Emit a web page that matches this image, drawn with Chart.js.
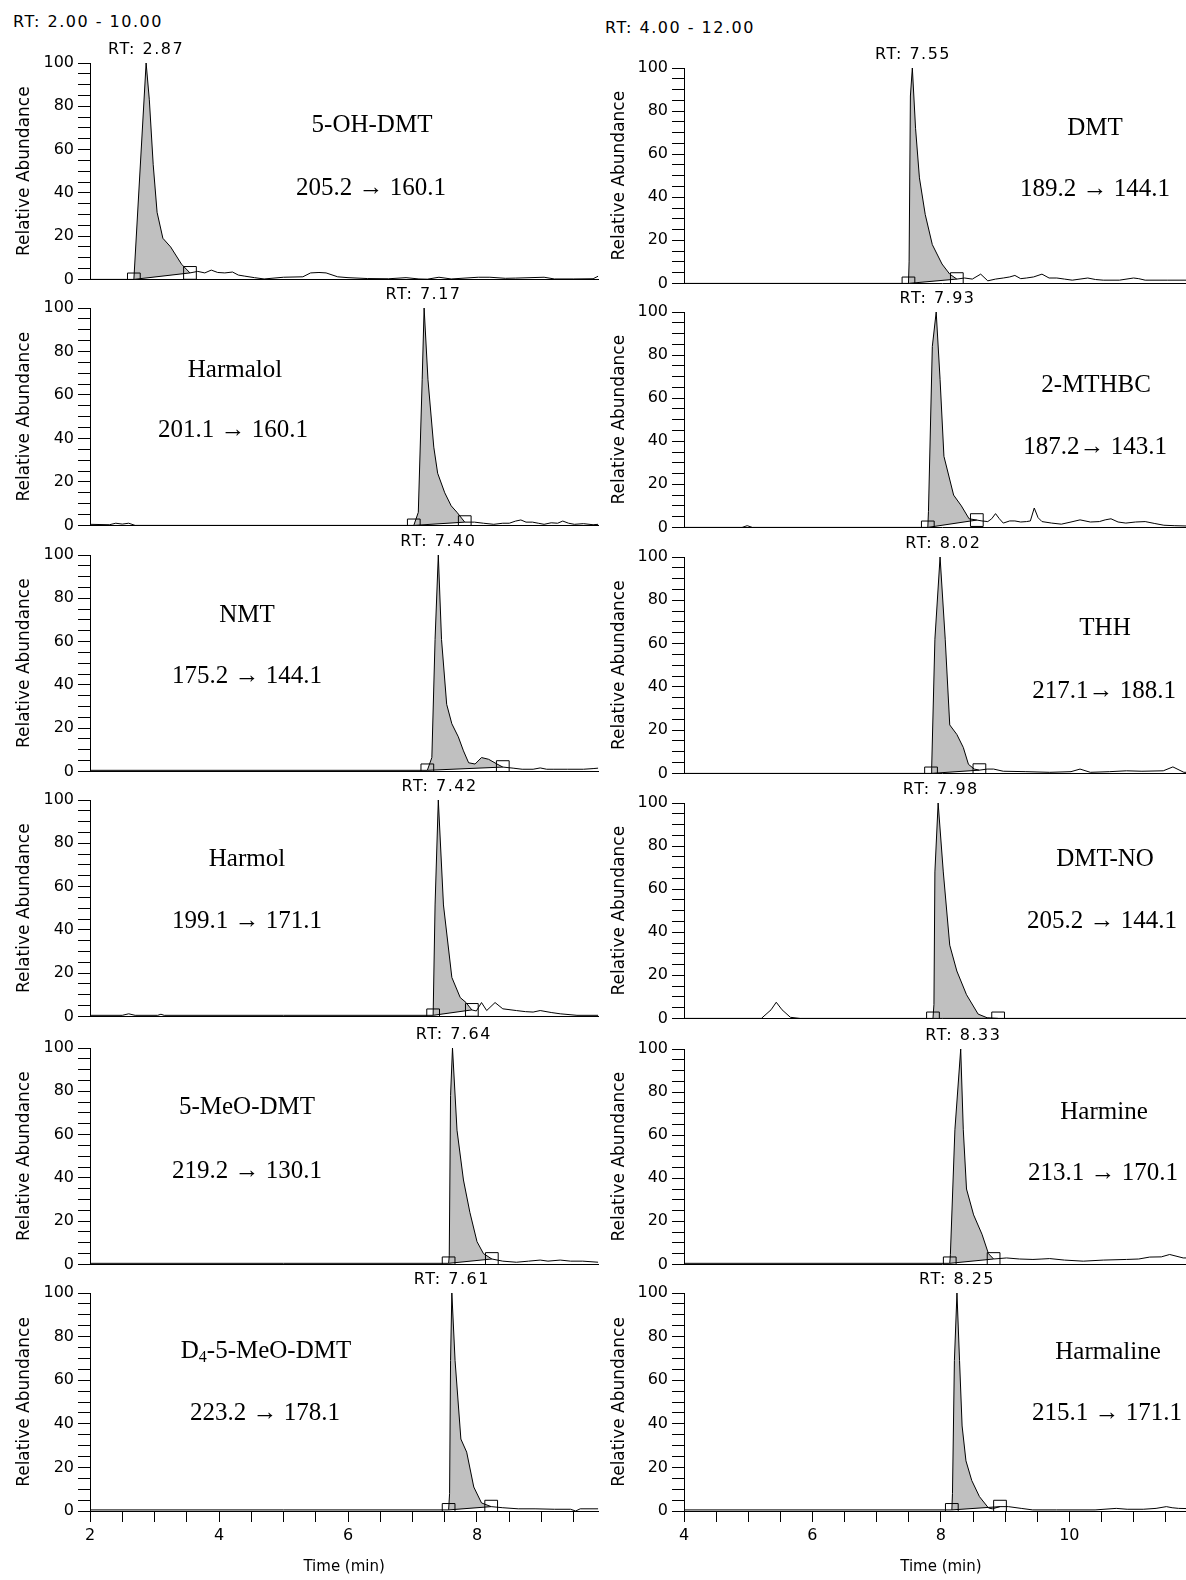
<!DOCTYPE html>
<html>
<head>
<meta charset="utf-8">
<script src="https://cdn.jsdelivr.net/npm/chart.js@4.4.0/dist/chart.umd.min.js"></script>
<style>
  html, body { margin: 0; padding: 0; background: #fff; overflow: hidden; }
  body { position: relative; width: 1186px; height: 1580px; }
  canvas { position: absolute; }
  .range { position: absolute; font: 16px "DejaVu Sans"; letter-spacing: 1.5px; line-height: 16px; white-space: nowrap; color: #000; }
  .label { position: absolute; font: 25px "Liberation Serif"; line-height: 25px; white-space: nowrap; color: #000; transform: translate(-50%, -50%); }
  .label sub { font-size: 16px; line-height: 0; vertical-align: -4px; }
</style>
</head>
<body>
<div class="range" style="left:13px;top:14px">RT: 2.00 - 10.00</div>
<div class="range" style="left:605px;top:20px">RT: 4.00 - 12.00</div>
<script>
// compounds, left column first (RT 2-10 min), then right column (RT 4-12 min)
const compounds = ['5-OH-DMT', 'Harmalol', 'NMT', 'Harmol', '5-MeO-DMT', 'D<sub>4</sub>-5-MeO-DMT',
  'DMT', '2-MTHBC', 'THH', 'DMT-NO', 'Harmine', 'Harmaline'];
const transitions = ['205.2 → 160.1', '201.1 → 160.1', '175.2 → 144.1', '199.1 → 171.1', '219.2 → 130.1', '223.2 → 178.1',
  '189.2 → 144.1', '187.2→ 143.1', '217.1→ 188.1', '205.2 → 144.1', '213.1 → 170.1', '215.1 → 171.1'];
const retentionTimes = [2.87, 7.17, 7.40, 7.42, 7.64, 7.61, 7.55, 7.93, 8.02, 7.98, 8.33, 8.25];

// integration limits [time, abundance]
const peakStart = [[2.68, 0], [7.02, 0], [7.23, 0.5], [7.32, 0.5], [7.56, 0.5], [7.56, 0.5],
  [7.48, 0], [7.78, 0], [7.83, 0], [7.86, 0], [8.12, 0.5], [8.17, 0.5]];
const peakEnd = [[3.55, 3], [7.81, 1.5], [8.40, 2], [7.92, 3], [8.23, 2.5], [8.22, 2],
  [8.23, 2], [8.54, 3.4], [8.58, 1.5], [8.87, 0], [8.80, 2.5], [8.92, 2]];

// traces [time (min), relative abundance]
const ohDmt = [[2.00,0],[2.60,0],[2.68,0],[2.87,100],[2.92,83],[2.98,53],[3.04,31],[3.13,19],[3.25,15],[3.42,7],[3.55,3],
  [3.67,3.7],[3.78,3],[3.88,4.3],[3.98,3.2],[4.09,3],[4.21,3.4],[4.30,2],[4.40,1.5],[4.55,0.8],[4.70,0.2],[5.00,1],
  [5.30,1.2],[5.42,3],[5.55,3.2],[5.66,3],[5.84,1.2],[6.00,0.8],[6.30,0.4],[6.63,0.3],[6.90,0.8],[7.10,0.2],[7.23,0.1],
  [7.41,1],[7.60,0.2],[8.02,1],[8.20,1],[8.44,0.5],[8.60,0.6],[9.04,1],[9.20,0.2],[9.50,0.2],[9.80,0.3],[9.88,1.5]];
const harmalol = [[2.00,0.5],[2.30,0.3],[2.40,1],[2.50,0.6],[2.60,1],[2.70,0],[4.00,0],[6.00,0],[7.02,0],[7.09,6],
  [7.15,67],[7.18,100],[7.24,67],[7.33,36],[7.39,24],[7.50,15],[7.60,9],[7.69,6],[7.81,1.5],[7.96,1.5],[8.10,1],
  [8.26,0.5],[8.40,1],[8.50,1],[8.60,2],[8.68,2.5],[8.76,1.5],[8.86,1.5],[8.95,1],[9.04,0.5],[9.15,1.2],[9.25,1],
  [9.33,2],[9.42,1],[9.51,0.5],[9.65,0.8],[9.80,0.3],[9.88,0.5]];
const nmt = [[2.00,0.5],[4.00,0.5],[6.00,0.5],[7.23,0.5],[7.30,6.4],[7.35,61],[7.40,100],[7.45,61],[7.53,31],[7.61,22],
  [7.71,16],[7.79,9.5],[7.87,4],[7.97,3.4],[8.07,6.4],[8.18,5.6],[8.31,3.4],[8.40,2],[8.56,1.5],[8.70,1],[8.87,1],
  [8.98,1.6],[9.08,1],[9.18,1],[9.40,1],[9.65,1],[9.80,1.3],[9.88,1.5]];
const harmol = [[2.00,0.5],[2.50,0.5],[2.60,1.2],[2.70,0.5],[3.05,0.5],[3.10,1],[3.15,0.5],[5.00,0.5],[7.32,0.5],
  [7.35,51.5],[7.40,100],[7.48,51.5],[7.61,18],[7.74,8.7],[7.83,6.4],[7.92,3],[7.99,2.5],[8.07,6.4],[8.15,2.7],
  [8.28,6.4],[8.40,3.5],[8.61,2.7],[8.75,2.2],[8.87,2],[8.98,2.7],[9.15,1.8],[9.29,1.2],[9.55,0.5],[9.88,0.5]];
const meoDmt = [[2.00,0.5],[5.00,0.5],[7.56,0.5],[7.57,4],[7.59,78],[7.62,100],[7.69,62],[7.79,39],[7.89,24],
  [8.00,10.5],[8.10,5],[8.23,2.5],[8.40,1.5],[8.61,1],[8.80,1.5],[8.98,2],[9.10,1.5],[9.29,2],[9.45,1.5],[9.64,1.5],[9.88,1]];
const d4MeoDmt = [[2.00,0.5],[5.00,0.5],[7.56,0.5],[7.575,8],[7.59,69],[7.61,100],[7.66,69],[7.75,33],[7.84,27],
  [7.95,11],[8.07,3.7],[8.22,2],[8.40,1.5],[8.64,1],[8.90,1],[9.20,0.8],[9.45,0.8],[9.53,0],[9.60,1],[9.88,1]];
const dmt = [[4.00,0],[6.00,0],[7.48,0],[7.49,10],[7.51,87],[7.54,100],[7.59,72],[7.65,49],[7.74,32],[7.85,18],
  [8.00,9],[8.12,4.3],[8.23,2],[8.35,2.5],[8.47,2],[8.60,4.3],[8.71,1.2],[8.83,2],[8.95,2.5],[9.05,3],[9.13,3.7],
  [9.22,2.2],[9.31,2.5],[9.42,3],[9.55,4.3],[9.66,2.5],[9.78,2.5],[9.90,2],[10.02,1.5],[10.14,2],[10.26,2.5],
  [10.38,1.8],[10.50,1.5],[10.75,1.5],[10.97,2.5],[11.05,2.2],[11.15,1.5],[11.50,1.5],[12.00,1.5]];
const mthbc = [[4.00,0],[4.90,0],[4.98,0.8],[5.06,0],[7.78,0],[7.79,7.4],[7.85,84],[7.91,100],[7.97,68.7],[8.03,33],
  [8.18,15],[8.30,10],[8.42,4],[8.54,3.4],[8.62,3],[8.71,2.7],[8.77,4],[8.83,6.4],[8.89,4],[8.95,2],[9.05,3],
  [9.13,3],[9.22,2.5],[9.31,2.7],[9.37,3],[9.43,9],[9.49,4.5],[9.55,2.7],[9.70,2],[9.85,1.5],[10.00,2.5],[10.14,3.5],
  [10.30,2.5],[10.44,2.7],[10.53,3.5],[10.62,4],[10.73,2.5],[10.85,2],[11.00,2.5],[11.15,2.7],[11.30,1.8],[11.44,1],
  [11.60,0.8],[12.00,0.5]];
const thh = [[4.00,0],[7.83,0],[7.84,2.7],[7.89,62],[7.97,100],[8.05,62],[8.12,22.4],[8.23,18],[8.33,12],[8.41,4.2],
  [8.50,2],[8.58,1.5],[8.70,2],[8.80,2],[8.95,1],[9.30,0.8],[9.67,0.5],[10.00,0.8],[10.14,2],[10.30,0.5],[10.60,0.8],
  [10.86,1.2],[11.10,1],[11.43,1.2],[11.58,3],[11.75,0.5],[12.00,0.5]];
const dmtNo = [[4.00,0],[5.20,0],[5.35,4],[5.43,7.5],[5.52,4],[5.65,0.5],[5.80,0],[7.86,0],[7.875,6.5],[7.89,68],
  [7.94,100],[8.02,68],[8.12,34],[8.23,22],[8.38,11],[8.56,2],[8.70,0.3],[8.87,0],[12.00,0]];
const harmine = [[4.00,0.5],[8.12,0.5],[8.13,4.5],[8.20,62.5],[8.29,100],[8.33,62.5],[8.38,35],[8.49,23],[8.62,14],
  [8.72,5],[8.80,2.5],[9.00,3],[9.20,2.5],[9.41,2.3],[9.55,2.5],[9.67,2.7],[9.90,2],[10.19,1.5],[10.50,2],[10.86,2.3],
  [11.05,2.5],[11.22,3.4],[11.40,3.5],[11.53,4.6],[11.74,3],[12.00,3]];
const harmaline = [[4.00,0.5],[8.17,0.5],[8.18,8],[8.21,69],[8.25,100],[8.29,69],[8.33,39],[8.39,23],[8.48,14],
  [8.60,6.6],[8.74,1.4],[8.80,1],[8.92,2],[9.05,2],[9.25,1.2],[9.43,0.5],[9.80,0.5],[10.40,0.5],[10.73,1.2],[10.90,0.8],
  [11.15,0.8],[11.35,1.2],[11.51,2],[11.60,1.5],[11.70,1.2],[12.00,1]];
const traces = [ohDmt, harmalol, nmt, harmol, meoDmt, d4MeoDmt, dmt, mthbc, thh, dmtNo, harmine, harmaline];

const xTicksLeft = [2, 2.5, 3, 3.5, 4, 4.5, 5, 5.5, 6, 6.5, 7, 7.5, 8, 8.5, 9, 9.5];
const xTicksRight = [4, 4.5, 5, 5.5, 6, 6.5, 7, 7.5, 8, 8.5, 9, 9.5, 10, 10.5, 11, 11.5, 12];
const yTicks = [0, 5, 10, 15, 20, 25, 30, 35, 40, 45, 50, 55, 60, 65, 70, 75, 80, 85, 90, 95, 100];

// page layout
const pxPerMin = 64.5;
const columns = [
  { left: 0, axisW: 90, xmin: 2, xmax: 9.88, ticks: xTicksLeft, titlePad: 14 },
  { left: 600, axisW: 84, xmin: 4, xmax: 12, ticks: xTicksRight, titlePad: 9 }
];
const plotTops = [[63, 308, 555, 800, 1048, 1293], [68, 312, 557, 803, 1049, 1293]];
const plotBottoms = [[281, 527, 773, 1018, 1266, 1511], [285, 529, 775, 1020, 1266, 1511]];
const namePos = [[372, 123], [235, 368], [247, 613], [247, 857], [247, 1105], [266, 1349],
  [1095, 126], [1096, 383], [1105, 626], [1105, 857], [1104, 1110], [1108, 1350]];
const transPos = [[371, 186], [233, 428], [247, 674], [247, 919], [247, 1169], [265, 1411],
  [1095, 187], [1095, 445], [1104, 689], [1102, 919], [1103, 1171], [1107, 1411]];

Chart.defaults.font.family = '"DejaVu Sans", sans-serif';
Chart.defaults.color = '#000';

const rtLabel = {
  id: 'rtLabel',
  afterDraw(chart, args, opts) {
    const { ctx, chartArea, scales } = chart;
    ctx.save();
    ctx.font = '16px "DejaVu Sans"';
    ctx.letterSpacing = '1.5px';
    ctx.fillStyle = '#000';
    ctx.textAlign = 'center';
    ctx.fillText('RT: ' + opts.rt.toFixed(2), scales.x.getPixelForValue(opts.rt), chartArea.top - 9);
    ctx.restore();
  }
};

function drawPanel(i) {
  const c = i < 6 ? 0 : 1;
  const row = i % 6;
  const col = columns[c];
  const last = row === 5;
  const top = plotTops[c][row];
  const plotH = plotBottoms[c][row] - top;
  const padTop = 26;
  const padBottom = last ? 0 : 12;
  const axisH = last ? 69 : 0;
  const plotW = (col.xmax - col.xmin) * pxPerMin;

  const canvas = document.createElement('canvas');
  canvas.width = Math.round(col.axisW + plotW) + 12;
  canvas.height = padTop + plotH + padBottom + axisH;
  canvas.style.left = col.left + 'px';
  canvas.style.top = (top - padTop) + 'px';
  document.body.appendChild(canvas);

  const trace = traces[i].map(([x, y]) => ({ x, y }));
  const s = peakStart[i], e = peakEnd[i];
  const area = trace.filter((p) => p.x >= s[0] && p.x <= e[0]);
  const limits = [{ x: s[0], y: s[1] }, { x: e[0], y: e[1] }];

  new Chart(canvas, {
    type: 'line',
    data: {
      datasets: [
        { data: trace, borderColor: '#000', borderWidth: 1, pointRadius: 0, fill: false, order: 1 },
        { data: area, borderColor: 'transparent', borderWidth: 0, pointRadius: 0, backgroundColor: '#c0c0c0', fill: 2, order: 4 },
        { data: limits, borderColor: '#000', borderWidth: 1, pointRadius: 0, fill: false, order: 2 },
        { data: limits, showLine: false, pointStyle: 'rect', pointRadius: 9, pointBorderWidth: 1,
          pointBorderColor: '#000', pointBackgroundColor: 'rgba(0,0,0,0)', clip: 0, order: 0 }
      ]
    },
    options: {
      responsive: false,
      animation: false,
      devicePixelRatio: 1,
      events: [],
      layout: { padding: { top: padTop, right: canvas.width - col.axisW - plotW, bottom: padBottom, left: 0 } },
      plugins: { legend: { display: false }, tooltip: { enabled: false }, rtLabel: { rt: retentionTimes[i] } },
      scales: {
        x: {
          type: 'linear',
          min: col.xmin,
          max: col.xmax,
          afterBuildTicks: (sc) => { sc.ticks = col.ticks.map((v) => ({ value: v })); },
          afterFit: (sc) => { sc.height = axisH; },
          border: { display: true, color: '#000', width: 1 },
          grid: { display: last, drawOnChartArea: false, tickLength: 11, color: '#000' },
          ticks: { display: last, autoSkip: false, maxRotation: 0, padding: 4, font: { size: 16 },
            callback: (v) => (v % 2 === 0 ? v : '') },
          title: { display: last, text: 'Time (min)', font: { size: 15 }, padding: { top: 0, bottom: 4 } }
        },
        y: {
          min: 0,
          max: 100,
          afterBuildTicks: (sc) => { sc.ticks = yTicks.map((v) => ({ value: v })); },
          afterFit: (sc) => { sc.width = col.axisW; },
          border: { color: '#000', width: 1 },
          grid: { drawOnChartArea: false, tickLength: 12, color: '#000' },
          ticks: { autoSkip: false, padding: 4, font: { size: 16 }, callback: (v) => (v % 20 === 0 ? v : '') },
          title: { display: true, text: 'Relative Abundance', font: { size: 17 }, padding: { top: col.titlePad, bottom: 0 } }
        }
      }
    },
    plugins: [rtLabel]
  });

  [[compounds[i], namePos[i]], [transitions[i], transPos[i]]].forEach(([text, pos]) => {
    const div = document.createElement('div');
    div.className = 'label';
    div.innerHTML = text;
    div.style.left = pos[0] + 'px';
    div.style.top = pos[1] + 'px';
    document.body.appendChild(div);
  });
}

for (let i = 0; i < 12; i++) drawPanel(i);
</script>
</body>
</html>
